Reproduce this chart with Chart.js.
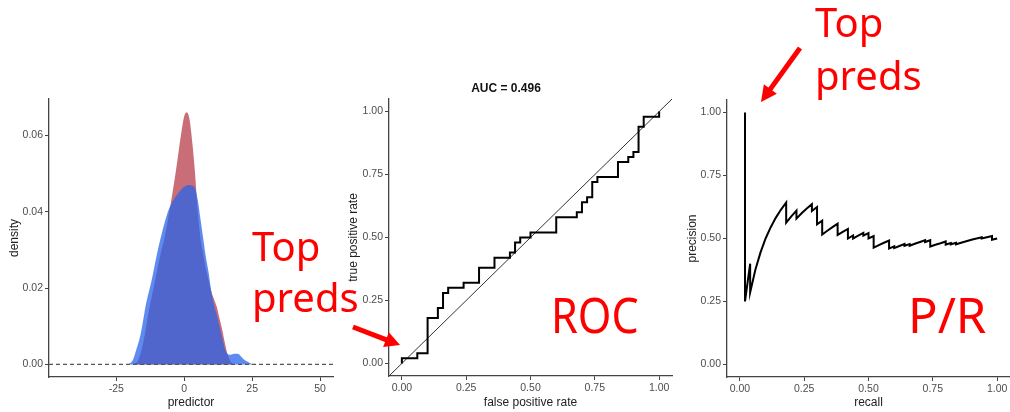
<!DOCTYPE html>
<html><head><meta charset="utf-8">
<script src="https://cdn.jsdelivr.net/npm/chart.js@4.4.0/dist/chart.umd.min.js"></script>
<style>
html,body{margin:0;padding:0;background:#fff}
body{width:1010px;height:412px;overflow:hidden;position:relative}
canvas{position:absolute;top:0}
.ann{position:absolute;color:#ff0000;font-family:'Noto Sans',sans-serif;line-height:1;white-space:nowrap;transform-origin:0 0}
svg{position:absolute;left:0;top:0}
</style></head>
<body>
<canvas id="c1" width="340" height="412" style="left:0"></canvas>
<canvas id="c2" width="340" height="412" style="left:340px"></canvas>
<canvas id="c3" width="330" height="412" style="left:680px"></canvas>

<div class="ann" style="left:252px;top:226px;font-size:40px">Top</div>
<div class="ann" style="left:252px;top:277px;font-size:40px">preds</div>
<div class="ann" style="left:815px;top:2px;font-size:40px">Top</div>
<div class="ann" style="left:815px;top:55px;font-size:40px">preds</div>
<div class="ann" style="left:551px;top:290px;font-size:49px;transform:scaleX(0.88)">ROC</div>
<div class="ann" style="left:908px;top:290px;font-size:49px">P/R</div>
<svg id="arrows" width="1010" height="412"></svg>

<script>
// ---- density panel data ----
const densTicksX = [-25, 0, 25, 50];
const densTicksY = [0, 0.02, 0.04, 0.06];
const redX = [-19,-17,-15,-13,-11,-9,-7,-5,-3,-1,0,1,2,3,4,5,6,7,8,9,10,11,12,13,14,15,16,17,18];
const redY = [0,0.001,0.006,0.014,0.021,0.028,0.034,0.042,0.051,0.061,0.065,0.066,0.064,0.058,0.050,0.040,0.033,0.029,0.025,0.022,0.019,0.017,0.015,0.012,0.009,0.0055,0.0025,0.0008,0];
const blueX = [-20.5,-19,-18,-16,-14,-12,-10,-8,-6,-4,-2,0,2,3,4,5,6,7,8,9,10,11,12,13,14,15,16,17,18,19,20,21,22,23,24,25,26];
const blueY = [0,0.001,0.003,0.008,0.016,0.022,0.029,0.035,0.040,0.043,0.045,0.0465,0.047,0.0468,0.046,0.043,0.038,0.033,0.028,0.024,0.019,0.0155,0.013,0.010,0.007,0.004,0.0027,0.0025,0.0027,0.0028,0.0027,0.002,0.0013,0.0008,0.0004,0.0001,0];

// ---- ROC panel data ----
const rateTicks = [0, 0.25, 0.5, 0.75, 1];
const rocTitle = 'AUC = 0.496';
const rocFpr = [0,0,0.06,0.10,0.14,0.16,0.18,0.24,0.30,0.36,0.42,0.44,0.46,0.50,0.60,0.68,0.70,0.72,0.74,0.76,0.84,0.88,0.90,0.92,0.94,1.00];
const rocTpr = [0,0.02,0.04,0.18,0.22,0.28,0.30,0.32,0.38,0.42,0.44,0.48,0.50,0.52,0.58,0.60,0.64,0.66,0.72,0.74,0.80,0.82,0.84,0.94,0.98,1.00];

// ---- P/R panel data ----
const prRecall = [0.02,0.02,0.04,0.04,0.06,0.08,0.10,0.12,0.14,0.16,0.18,0.18,0.20,0.22,0.22,0.24,0.26,0.28,0.28,0.30,0.30,0.32,0.32,0.34,0.36,0.38,0.38,0.40,0.42,0.42,0.44,0.44,0.46,0.48,0.48,0.50,0.50,0.52,0.52,0.54,0.56,0.58,0.58,0.60,0.60,0.62,0.64,0.64,0.66,0.66,0.68,0.70,0.72,0.72,0.74,0.74,0.76,0.78,0.80,0.80,0.82,0.82,0.84,0.84,0.86,0.88,0.90,0.92,0.94,0.94,0.96,0.98,0.98,1.00];
const prPrecision = [1.00,0.25,0.40,0.286,0.375,0.444,0.50,0.545,0.583,0.615,0.643,0.563,0.588,0.611,0.579,0.60,0.619,0.636,0.609,0.625,0.556,0.571,0.516,0.531,0.545,0.559,0.514,0.526,0.538,0.50,0.512,0.50,0.511,0.522,0.511,0.521,0.50,0.51,0.464,0.474,0.483,0.492,0.46,0.469,0.462,0.47,0.478,0.471,0.478,0.471,0.479,0.486,0.493,0.486,0.493,0.468,0.475,0.481,0.488,0.476,0.482,0.477,0.483,0.477,0.483,0.489,0.495,0.50,0.505,0.50,0.505,0.51,0.495,0.50];

const pts = (xs, ys) => xs.map((x, i) => ({x, y: ys[i]}));
const FONT = "'Liberation Sans', 'DejaVu Sans', sans-serif";
const AX = '#444';

function axis(opts) {
  const {min, max, ticks, title, fmt, horizontal, size, titlePad} = opts;
  return {
    type: 'linear', min, max,
    afterBuildTicks: s => { s.ticks = ticks.map(v => ({value: v})); },
    afterFit: s => { if (horizontal) s.height = size; else s.width = size; },
    ticks: { color: '#4d4d4d', font: {family: FONT, size: 10.5}, padding: 2, autoSkip: false, maxRotation: 0,
             callback: v => fmt(v) },
    grid: { display: true, drawOnChartArea: false, drawTicks: true, tickLength: 4, tickColor: AX, tickWidth: 1 },
    border: { display: true, color: AX, width: 1.3 },
    title: { display: true, text: title, color: '#222', font: {family: FONT, size: 12},
             padding: horizontal ? {top: 0, bottom: 2} : {top: titlePad, bottom: 0} }
  };
}
const base = (padding) => ({
  responsive: false, animation: false, events: [],
  layout: {padding},
  plugins: {legend: {display: false}, tooltip: {enabled: false}, title: {display: false}},
  elements: {point: {radius: 0}}
});

// Density
const dX = {min: -49.75, max: 54.75};
new Chart(document.getElementById('c1'), {
  type: 'line',
  data: { datasets: [
    {data: pts(redX, redY), order: 2, fill: 'origin', backgroundColor: 'rgba(192,84,94,0.85)', borderWidth: 0, borderColor: 'rgba(0,0,0,0)', cubicInterpolationMode: 'monotone'},
    {data: pts(blueX, blueY), order: 1, fill: 'origin', backgroundColor: 'rgba(40,100,235,0.75)', borderWidth: 0, borderColor: 'rgba(0,0,0,0)', cubicInterpolationMode: 'monotone'},
    {data: [{x: dX.min, y: 0}, {x: dX.max, y: 0}], order: 0, borderColor: '#555', borderWidth: 1.2, borderDash: [4, 3], fill: false}
  ]},
  options: Object.assign(base({left: 0, right: 7, top: 99, bottom: 0}), {
    scales: {
      x: axis({min: dX.min, max: dX.max, ticks: densTicksX, title: 'predictor', fmt: v => String(v), horizontal: true, size: 35}),
      y: axis({min: -0.0033, max: 0.0695, ticks: densTicksY, title: 'density', fmt: v => v.toFixed(2), horizontal: false, size: 49, titlePad: 7})
    }
  })
});

// ROC
new Chart(document.getElementById('c2'), {
  type: 'line',
  data: { datasets: [
    {data: pts(rocFpr, rocTpr), stepped: 'before', borderColor: '#000', borderWidth: 2, fill: false},
    {data: [{x: -0.05, y: -0.05}, {x: 1.05, y: 1.05}], borderColor: '#333', borderWidth: 1, fill: false}
  ]},
  options: Object.assign(base({left: 0, right: 8, top: 81.6, bottom: 0}), {
    plugins: {legend: {display: false}, tooltip: {enabled: false},
      title: {display: true, text: rocTitle, color: '#111', font: {family: FONT, size: 12, weight: 'bold'}, padding: {top: 0, bottom: 3}}},
    scales: {
      x: axis({min: -0.05, max: 1.05, ticks: rateTicks, title: 'false positive rate', fmt: v => v.toFixed(2), horizontal: true, size: 36}),
      y: axis({min: -0.05, max: 1.05, ticks: rateTicks, title: 'true positive rate', fmt: v => v.toFixed(2), horizontal: false, size: 49, titlePad: 6})
    }
  })
});

// P/R
new Chart(document.getElementById('c3'), {
  type: 'line',
  data: { datasets: [
    {data: pts(prRecall, prPrecision), borderColor: '#000', borderWidth: 2, fill: false, tension: 0}
  ]},
  options: Object.assign(base({left: 0, right: 0, top: 100, bottom: 0}), {
    scales: {
      x: axis({min: -0.05, max: 1.05, ticks: rateTicks, title: 'recall', fmt: v => v.toFixed(2), horizontal: true, size: 35}),
      y: axis({min: -0.05, max: 1.05, ticks: rateTicks, title: 'precision', fmt: v => v.toFixed(2), horizontal: false, size: 47, titlePad: 5})
    }
  })
});

// annotation arrows
function arrow(svg, x1, y1, x2, y2, w, hl, hw) {
  const dx = x2 - x1, dy = y2 - y1, L = Math.hypot(dx, dy);
  const ux = dx / L, uy = dy / L, nx = -uy, ny = ux;
  const bx = x2 - ux * hl, by = y2 - uy * hl;
  const ns = 'http://www.w3.org/2000/svg';
  const line = document.createElementNS(ns, 'line');
  line.setAttribute('x1', x1); line.setAttribute('y1', y1);
  line.setAttribute('x2', bx + ux * 2); line.setAttribute('y2', by + uy * 2);
  line.setAttribute('stroke', '#ff0000'); line.setAttribute('stroke-width', w);
  svg.appendChild(line);
  const poly = document.createElementNS(ns, 'polygon');
  poly.setAttribute('points', `${x2},${y2} ${bx + nx * hw},${by + ny * hw} ${bx - nx * hw},${by - ny * hw}`);
  poly.setAttribute('fill', '#ff0000');
  svg.appendChild(poly);
}
const svg = document.getElementById('arrows');
arrow(svg, 353, 327, 400, 345, 5, 15, 8);
arrow(svg, 800, 48, 761, 102, 5, 16, 8);
</script>
</body></html>
